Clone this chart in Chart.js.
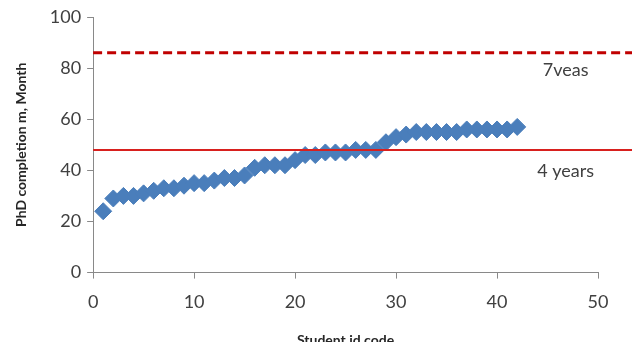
<!DOCTYPE html>
<html>
<head>
<meta charset="utf-8">
<script src="https://cdn.jsdelivr.net/npm/chart.js@4.4.0/dist/chart.umd.min.js"></script>
<style>
  html, body { margin: 0; padding: 0; background: #fff; }
  #wrap { width: 632px; height: 342px; }
</style>
</head>
<body>
<div id="wrap"><canvas id="chart" width="632" height="342"></canvas></div>
<script>
// student id codes and completion times (months)
var studentIds = [1,2,3,4,5,6,7,8,9,10,11,12,13,14,15,16,17,18,19,20,21,
                  22,23,24,25,26,27,28,29,30,31,32,33,34,35,36,37,38,39,40,41,42];
var months = [24,29,30,30,31,32,33,33,34,35,35,36,37,37,38,41,42,42,42,44,46,
              46,47,47,47,48,48,48,51,53,54,55,55,55,55,55,56,56,56,56,56,57];

// reference lines
var refLineX = [0, 53.5];
var sevenYears = 86;
var fourYears = 48;

var refLabels = ['7veas', '4 years'];
var refLabelX = [46.8, 46.8];
var refLabelY = [79, 39.5];

var xTicks = [0, 10, 20, 30, 40, 50];
var yTicks = [0, 20, 40, 60, 80, 100];

var points = studentIds.map(function (id, i) { return { x: id, y: months[i] }; });

var refTextPlugin = {
  id: 'refText',
  afterDatasetsDraw: function (chart) {
    var ctx = chart.ctx;
    var xs = chart.scales.x, ys = chart.scales.y;
    ctx.save();
    ctx.font = '18px Lato, "Open Sans", sans-serif';
    ctx.fillStyle = '#404040';
    ctx.textAlign = 'center';
    ctx.textBaseline = 'middle';
    refLabels.forEach(function (t, i) {
      ctx.fillText(t, xs.getPixelForValue(refLabelX[i]), ys.getPixelForValue(refLabelY[i]));
    });
    ctx.restore();
  }
};

new Chart(document.getElementById('chart'), {
  type: 'scatter',
  data: {
    datasets: [
      {
        type: 'line',
        data: refLineX.map(function (x) { return { x: x, y: sevenYears }; }),
        borderColor: '#C00000',
        borderWidth: 3,
        borderDash: [9, 5],
        pointRadius: 0,
        clip: false
      },
      {
        type: 'line',
        data: refLineX.map(function (x) { return { x: x, y: fourYears }; }),
        borderColor: '#D8201E',
        borderWidth: 2,
        pointRadius: 0,
        clip: false
      },
      {
        data: points,
        pointStyle: 'rectRot',
        pointRadius: 8.5,
        pointHoverRadius: 8.5,
        backgroundColor: '#4A7EBB',
        borderColor: '#4A7EBB',
        borderWidth: 1
      }
    ]
  },
  options: {
    responsive: false,
    animation: false,
    layout: { padding: { top: 17, right: 34, left: 13, bottom: 0 } },
    plugins: {
      legend: { display: false },
      tooltip: { enabled: false }
    },
    scales: {
      x: {
        type: 'linear',
        min: 0,
        max: 50,
        afterBuildTicks: function (s) { s.ticks = xTicks.map(function (v) { return { value: v }; }); },
        grid: { drawOnChartArea: false, tickLength: 6, color: '#898989' },
        border: { color: '#898989', width: 1 },
        ticks: { font: { family: 'Lato, "Open Sans", sans-serif', size: 18 }, color: '#404040', padding: 13, maxRotation: 0 },
        title: {
          display: true,
          text: 'Student id code',
          font: { family: 'Lato, "Open Sans", sans-serif', size: 14, weight: 'bold' },
          color: '#262626',
          padding: { top: 6, bottom: -7 }
        }
      },
      y: {
        min: 0,
        max: 100,
        afterBuildTicks: function (s) { s.ticks = yTicks.map(function (v) { return { value: v }; }); },
        grid: { drawOnChartArea: false, tickLength: 6, color: '#898989' },
        border: { color: '#898989', width: 1 },
        ticks: { font: { family: 'Lato, "Open Sans", sans-serif', size: 18 }, color: '#404040', padding: 6 },
        title: {
          display: true,
          text: 'PhD completion m, Month',
          font: { family: 'Lato, "Open Sans", sans-serif', size: 14, weight: 'bold' },
          color: '#262626',
          padding: { top: 0, bottom: 14 }
        }
      }
    }
  },
  plugins: [refTextPlugin]
});
</script>
</body>
</html>
